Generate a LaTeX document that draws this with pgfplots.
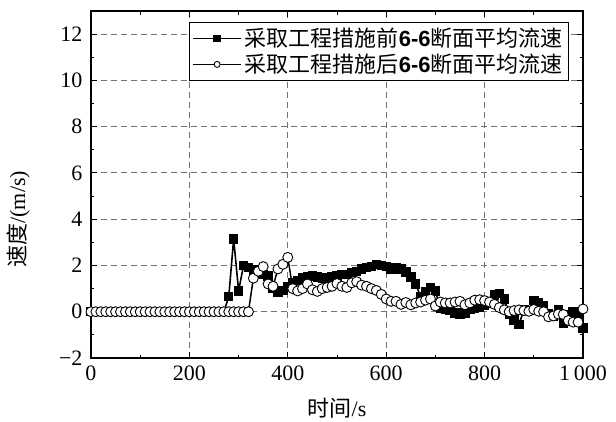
\documentclass[border=0pt]{standalone}
\usepackage{pgfplots}
\pgfplotsset{compat=1.18}
\usepackage{fontspec}
\setmainfont{Liberation Serif}
\newfontfamily\cjk{Noto Sans CJK SC}
\newfontfamily\arial{Liberation Sans}
\begin{document}
\begin{tikzpicture}
\begin{axis}[
  scale only axis, width=492pt, height=347pt,
  xmin=0, xmax=1000, ymin=-2, ymax=13,
  xtick={0,200,400,600,800,1000},
  xticklabels={0,200,400,600,800,1\,000},
  ytick={-2,0,2,4,6,8,10,12},
  yticklabels={−2,0,2,4,6,8,10,12},
  minor x tick num=1, minor y tick num=1,
  tick align=inside, major tick length=6pt, minor tick length=3.5pt,
  grid=major,
  major grid style={gray!90!black, dash pattern=on 6pt off 4pt, line width=0.9pt},
  axis line style={line width=1.4pt},
  tick style={line width=1pt, black},
  tick label style={font=\fontsize{22}{24}\selectfont},
  xticklabel style={yshift=-4pt},
  yticklabel style={xshift=-5pt},
  xlabel={{\cjk 时间}/s},
  ylabel={{\cjk 速度}/(m/s)},
  label style={font=\fontsize{22}{24}\selectfont},
  xlabel style={at={(axis description cs:0.5,-0.145)}, anchor=center},
  ylabel style={at={(axis description cs:-0.148,0.4)}, anchor=center},
  legend style={at={(axis description cs:1,1)}, anchor=north east, xshift=-14pt, yshift=-11pt,
    draw=black, line width=0.6pt, font=\fontsize{22}{24}\selectfont,
    inner xsep=3pt, inner ysep=4pt, row sep=2pt, fill=white,
    nodes={inner xsep=3pt}},
  legend cell align=left,
  legend image code/.code={\draw[#1, mark repeat=2, mark phase=2, mark size=3pt] plot coordinates {(0pt,0pt) (24pt,0pt) (48pt,0pt)};},
]
\addplot[black, line width=1.6pt, mark=square*, mark size=3.9pt, mark options={solid}] coordinates {
(0,0)(10,0)(20,0)(30,0)(40,0)(50,0)(60,0)(70,0)(80,0)(90,0)
(100,0)(110,0)(120,0)(130,0)(140,0)(150,0)(160,0)(170,0)(180,0)(190,0)
(200,0)(210,0)(220,0)(230,0)(240,0)(250,0)(260,0)(270,0)
(280,0.65)(290,3.15)(300,0.9)(310,2.0)(320,1.9)(330,1.8)(340,1.68)(350,1.6)(360,1.55)(370,1.0)
(380,0.82)(390,0.92)(400,1.1)(410,1.25)(420,1.35)(430,1.45)(440,1.5)(450,1.55)(460,1.5)(470,1.45)
(480,1.48)(490,1.5)(500,1.55)(510,1.6)(520,1.6)(530,1.7)(540,1.75)(550,1.85)(560,1.9)(570,1.95)
(580,2.05)(590,2.0)(600,1.95)(610,1.85)(620,1.9)(630,1.85)(640,1.72)(650,1.5)(660,1.2)(670,0.65)
(680,0.85)(690,1.05)(700,0.9)(710,0.15)(720,0.1)(730,0.05)(740,-0.05)(750,-0.12)(760,-0.05)(770,0.1)
(780,0.15)(790,0.2)(800,0.28)(810,0.35)(820,0.72)(830,0.8)(840,0.55)(850,-0.1)(860,-0.35)(870,-0.55)
(880,0.1)(890,0.05)(900,0.48)(910,0.38)(920,0.25)(930,-0.1)(940,-0.2)(950,0.1)(960,-0.5)(970,-0.12)
(980,0.02)(990,-0.1)(1000,-0.7)
};
\addlegendentry{{\cjk 采取工程措施前}{\arial\bfseries 6-6}{\cjk 断面平均流速}}
\addplot[black, line width=1.5pt, mark=*, mark size=5pt, mark options={solid, fill=white, line width=0.9pt}] coordinates {
(0,0)(10,0)(20,0)(30,0)(40,0)(50,0)(60,0)(70,0)(80,0)(90,0)
(100,0)(110,0)(120,0)(130,0)(140,0)(150,0)(160,0)(170,0)(180,0)(190,0)
(200,0)(210,0)(220,0)(230,0)(240,0)(250,0)(260,0)(270,0)(280,0)(290,0)
(300,0)(310,0)(320,0)
(330,1.45)(340,1.75)(350,1.95)(360,1.2)(370,1.1)(380,1.85)(390,2.05)(400,2.35)(410,1.0)(420,0.9)
(430,1.0)(440,1.2)(450,0.95)(460,0.88)(470,1.0)(480,1.05)(490,1.1)(500,1.22)(510,1.1)(520,1.05)
(530,1.25)(540,1.3)(550,1.15)(560,1.1)(570,1.0)(580,0.92)(590,0.75)(600,0.55)(610,0.45)(620,0.45)
(630,0.32)(640,0.4)(650,0.3)(660,0.38)(670,0.42)(680,0.5)(690,0.55)(700,0.25)(710,0.42)(720,0.38)
(730,0.38)(740,0.42)(750,0.45)(760,0.3)(770,0.38)(780,0.5)(790,0.52)(800,0.48)(810,0.42)(820,0.32)
(830,0.18)(840,0.08)(850,0.0)(860,0.05)(870,0.08)(880,0.05)(890,0.02)(900,0.1)(910,0.02)(920,0.0)
(930,-0.22)(940,-0.18)(950,-0.1)(960,-0.12)(970,-0.38)(980,-0.45)(990,-0.45)(1000,0.12)
};
\addlegendentry{{\cjk 采取工程措施后}{\arial\bfseries 6-6}{\cjk 断面平均流速}}
\end{axis}
\pgfresetboundingbox
\path[use as bounding box] ([shift={(-91pt,-63pt)}]current axis.south west) rectangle ([shift={(33pt,11pt)}]current axis.north east);
\end{tikzpicture}
\end{document}
